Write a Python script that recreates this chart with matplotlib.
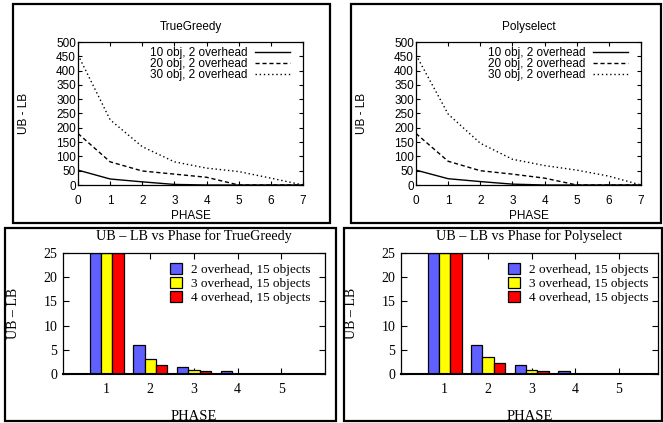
import matplotlib
matplotlib.use("Agg")
import matplotlib.pyplot as plt
from matplotlib.patches import Rectangle

# ---------------- data ----------------
phases_line = [0, 1, 2, 3, 4, 5, 6, 7]
tg_10obj = [52, 21, 11, 2, 0, 0, 0, 0]
tg_20obj = [180, 81, 49, 38, 27, 0, 0, 0]
tg_30obj = [455, 228, 134, 81, 59, 47, 24, 0]
ps_10obj = [52, 22, 12, 3, 0, 0, 0, 0]
ps_20obj = [180, 83, 50, 38, 24, 0, 0, 0]
ps_30obj = [455, 248, 146, 90, 68, 52, 31, 0]
line_labels = ["10 obj, 2 overhead", "20 obj, 2 overhead", "30 obj, 2 overhead"]

phases_bar = [1, 2, 3, 4, 5]
tg_2ovh = [25, 5.9, 1.4, 0.6, 0]
tg_3ovh = [25, 3.1, 0.8, 0, 0]
tg_4ovh = [25, 1.9, 0.55, 0, 0]
ps_2ovh = [25, 5.9, 1.85, 0.6, 0]
ps_3ovh = [25, 3.6, 0.8, 0, 0]
ps_4ovh = [25, 2.2, 0.6, 0, 0]
bar_labels = ["2 overhead, 15 objects", "3 overhead, 15 objects", "4 overhead, 15 objects"]
bar_colors = ["#6060ff", "#ffff00", "#ff0000"]

W, H = 663, 423
fig = plt.figure(figsize=(W / 100, H / 100), dpi=100)


def px_axes(x0, y0, x1, y1):
    return fig.add_axes([x0 / W, 1 - y1 / H, (x1 - x0) / W, (y1 - y0) / H])


def frame(x0, y0, x1, y1):
    fig.patches.append(Rectangle((x0 / W, 1 - y1 / H), (x1 - x0) / W, (y1 - y0) / H,
                                 transform=fig.transFigure, fill=False,
                                 edgecolor="black", linewidth=1.6))


frame(13, 4, 330, 223)
frame(351, 4, 661, 223)
frame(5, 228, 336, 421)
frame(344, 228, 662, 421)

sans = "Liberation Sans"
serif = "Liberation Serif"
FS_TOP = 8.5


def line_panel(ax, title, s10, s20, s30):
    ax.plot(phases_line, s10, color="black", lw=1.0, ls="-", label=line_labels[0])
    ax.plot(phases_line, s20, color="black", lw=1.0, ls=(0, (3, 2)), label=line_labels[1])
    ax.plot(phases_line, s30, color="black", lw=1.0, ls=(0, (1, 2)), label=line_labels[2])
    ax.set_xlim(0, 7)
    ax.set_ylim(0, 500)
    ax.set_xticks(range(0, 8))
    ax.set_yticks(range(0, 501, 50))
    ax.tick_params(direction="in", top=True, right=True, length=3, width=0.8,
                   labelsize=FS_TOP)
    ax.tick_params(axis="x", pad=7)
    ax.tick_params(axis="y", pad=1.5)
    for lab in ax.get_xticklabels() + ax.get_yticklabels():
        lab.set_fontfamily(sans)
    for s in ax.spines.values():
        s.set_linewidth(0.9)
    ax.set_title(title, fontsize=FS_TOP, fontfamily=sans, pad=8.5)
    ax.set_xlabel("PHASE", fontsize=FS_TOP, fontfamily=sans, labelpad=2)
    ax.set_ylabel("UB - LB", fontsize=FS_TOP, fontfamily=sans, labelpad=19)
    leg = ax.legend(loc="upper right", frameon=False, markerfirst=False,
                    prop={"family": sans, "size": FS_TOP}, handlelength=3.0,
                    labelspacing=-0.1, borderaxespad=0.0, handletextpad=0.6,
                    bbox_to_anchor=(0.963, 0.995))
    for t in leg.get_texts():
        t.set_ha("right")


ax1 = px_axes(78, 42, 303, 185)
line_panel(ax1, "TrueGreedy", tg_10obj, tg_20obj, tg_30obj)
ax2 = px_axes(416, 42, 641, 185)
line_panel(ax2, "Polyselect", ps_10obj, ps_20obj, ps_30obj)


def bar_panel(ax, title, a, b, c, xmax, leg_x):
    w = 0.26
    for k, (vals, col, lab) in enumerate(zip([a, b, c], bar_colors, bar_labels)):
        ax.bar([p + (k - 1) * w for p in phases_bar], vals, width=w, color=col,
               edgecolor="black", linewidth=0.9, label=lab, zorder=2)
    ax.set_xlim(0, xmax)
    ax.set_ylim(0, 25)
    ax.set_xticks(phases_bar)
    ax.set_yticks(range(0, 26, 5))
    ax.tick_params(direction="in", top=True, right=True, length=4, width=0.8,
                   labelsize=10, pad=6.5)
    ax.tick_params(axis="y", pad=4)
    for lab in ax.get_xticklabels() + ax.get_yticklabels():
        lab.set_fontfamily(serif)
    for s in ax.spines.values():
        s.set_linewidth(0.9)
    ax.spines["bottom"].set_linewidth(1.5)
    ax.set_title(title, fontsize=10.2, fontfamily=serif, pad=9.5)
    ax.set_xlabel("PHASE", fontsize=10.5, fontfamily=serif, labelpad=10)
    ax.set_ylabel("UB \u2013 LB", fontsize=10, fontfamily=serif, labelpad=17)
    ax.legend(loc="upper right", frameon=False, prop={"family": serif, "size": 9.5},
              handlelength=0.9, handleheight=0.85, labelspacing=0.1,
              borderaxespad=0.0, handletextpad=0.7, bbox_to_anchor=(leg_x, 0.961))


ax3 = px_axes(63, 253, 325, 374)
bar_panel(ax3, "UB \u2013 LB vs Phase for TrueGreedy", tg_2ovh, tg_3ovh, tg_4ovh, 6.0, 0.966)
ax4 = px_axes(401, 253, 658, 374)
bar_panel(ax4, "UB \u2013 LB vs Phase for Polyselect", ps_2ovh, ps_3ovh, ps_4ovh, 5.9, 0.984)

fig.savefig("out.png", dpi=100)
